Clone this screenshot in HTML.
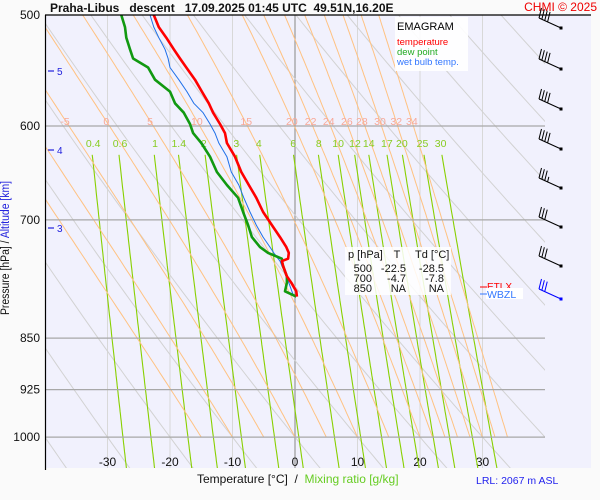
<!DOCTYPE html>
<html><head><meta charset="utf-8"><style>
html,body{margin:0;padding:0;background:#fafafa;}
svg{display:block;font-family:"Liberation Sans",sans-serif;}
</style></head><body>
<svg id="chart" width="600" height="500" viewBox="0 0 600 500">
<defs>
<clipPath id="clipAll"><rect x="46" y="15" width="499" height="453"/></clipPath>
<clipPath id="clipMoist"><rect x="46" y="15" width="499" height="423"/></clipPath>
</defs>
<rect x="0" y="0" width="600" height="500" fill="#fafafa"/>
<rect x="46" y="15" width="545" height="453" fill="#f1f1fd"/>
<g id="grid"></g>
<g id="bg" clip-path="url(#clipAll)"></g>
<g id="moist" clip-path="url(#clipMoist)"></g>
<g id="hgrid"></g>
<g id="labels"></g>
<g id="profiles" clip-path="url(#clipAll)"></g>
<line x1="45" y1="15" x2="591" y2="15" stroke="#000" stroke-width="1.2"/>
<line x1="45.5" y1="15" x2="45.5" y2="470" stroke="#000" stroke-width="1.2"/>
<text x="50" y="12" font-size="12" font-weight="bold" fill="#111" xml:space="preserve">Praha-Libus   descent   17.09.2025 01:45 UTC  49.51N,16.20E</text>
<text x="597" y="11" font-size="12" fill="#e00" text-anchor="end">CHMI © 2025</text>
<g>
<rect x="395" y="17" width="73" height="54" fill="#fff" opacity="0.9"/>
<text x="397" y="30" font-size="11" fill="#000">EMAGRAM</text>
<text x="397" y="45" font-size="9.5" fill="#f00">temperature</text>
<text x="397" y="55" font-size="9.5" fill="#2a2">dew point</text>
<text x="397" y="65" font-size="9.5" fill="#37f">wet bulb temp.</text>
</g>
<g font-size="11" fill="#111">
<rect x="345" y="247" width="106" height="48" fill="#fff" opacity="0.85"/>
<text x="348" y="258">p [hPa]</text><text x="397" y="258" text-anchor="middle">T</text><text x="415" y="258">Td [°C]</text>
<text x="372" y="272" text-anchor="end">500</text><text x="406" y="272" text-anchor="end">-22.5</text><text x="444" y="272" text-anchor="end">-28.5</text>
<text x="372" y="282" text-anchor="end">700</text><text x="406" y="282" text-anchor="end">-4.7</text><text x="444" y="282" text-anchor="end">-7.8</text>
<text x="372" y="292" text-anchor="end">850</text><text x="406" y="292" text-anchor="end">NA</text><text x="444" y="292" text-anchor="end">NA</text>
</g>
<g>
<line x1="480" y1="287" x2="487" y2="287" stroke="#f00"/>
<text x="487" y="290" font-size="10" fill="#f00">ETLX</text>
<rect x="486" y="288" width="37" height="11" fill="#fff"/>
<line x1="480" y1="294" x2="487" y2="294" stroke="#37f"/>
<text x="487" y="298" font-size="10.5" fill="#37f">WBZL</text>
</g>
<g id="barbs"></g>
<text x="9" y="248" font-size="11.5" fill="#111" text-anchor="middle" textLength="134" lengthAdjust="spacingAndGlyphs" transform="rotate(-90 9 248)">Pressure [hPa] / <tspan fill="#22d">Altitude [km]</tspan></text>
<text x="197" y="483" font-size="12" fill="#111" xml:space="preserve">Temperature [°C]  /  <tspan fill="#6c2">Mixing ratio [g/kg]</tspan></text>
<text x="476" y="484" font-size="10.5" fill="#22e">LRL: 2067 m ASL</text>
</svg>
<script>
const NS="http://www.w3.org/2000/svg";
const pressureTicks=[500,600,700,850,925,1000];
const tempTicks=[-30,-20,-10,0,10,20,30];
const altKm=[5,4,3];
const altY=[71,150,228];
const dryTheta=[-40,-30,-20,-10,0,10,20,30,40,50,60,70,80,90,100,110,120,130];
const moistThetaW=[-15,-10,-5,0,5,10,15,20,22,24,26,28,30,32,34];
const mixRatios=[0.4,0.6,1,1.4,2,3,4,6,8,10,12,14,17,20,25,30];
const moistLabels=["-5","0","5","10","15","20","22","24","26","28","30","32","34"];
const moistLabelT=[-36.8,-30.2,-23.2,-15.7,-7.8,-0.5,2.5,5.4,8.3,10.7,13.6,16.2,18.7];
const mixLabelT=[-32.3,-28.0,-22.4,-18.6,-14.6,-9.4,-5.8,-0.3,3.8,6.9,9.6,11.8,14.7,17.1,20.4,23.3];
const profP=[500,510,519,529,537,545,556,567,578,587,598,607,617,631,647,661,675,691,706,720,732,739,746,749,755,768,776,787,794];
const tempC=[-22.6,-21.8,-20.6,-19.4,-18.4,-17.4,-16.0,-14.9,-13.8,-13.1,-12.0,-11.2,-10.9,-9.6,-8.6,-7.4,-6.2,-5.1,-3.7,-2.4,-1.4,-1.0,-1.1,-2.1,-1.9,-1.3,-0.6,0.2,0.3];
const dewC=[-27.8,-27.2,-27.0,-26.4,-25.9,-23.5,-22.4,-20.0,-19.2,-17.8,-16.8,-16.3,-15.0,-13.6,-12.5,-10.9,-9.1,-8.3,-7.5,-6.9,-5.6,-4.3,-2.1,-2.1,-1.9,-1.3,-1.3,-1.6,0.2];
const wetC=[-23.2,-22.6,-21.8,-20.8,-20.3,-20.0,-18.6,-17.3,-16.2,-14.7,-13.6,-12.8,-12.2,-10.9,-10.2,-9.0,-8.2,-7.2,-6.2,-5.1,-4.0,-3.4,-2.7,-2.4,-2.1,-1.3,-1.0,-0.5,-0.2];
const barbY=[28,69,109,149,188,227,266,299];
const barbCount=[4,4,4,4,3.5,3,3,3];

function xT(t){return 295+6.25*t;}
function yP(p){return 15+609*Math.log(p/500);}
function mk(tag,attrs,parent){const e=document.createElementNS(NS,tag);for(const k in attrs)e.setAttribute(k,attrs[k]);parent.appendChild(e);return e;}
function pathOf(pts){return pts.map((q,i)=>(i?'L':'M')+q[0].toFixed(1)+' '+q[1].toFixed(1)).join(' ');}

const grid=document.getElementById('grid');
tempTicks.forEach(t=>{
  const l=mk('line',{x1:xT(t),x2:xT(t),y1:15,y2:468,stroke:t===0?'#999':'#d8d8d8','stroke-width':t===0?1.2:1},grid);
  
  
  const tx=mk('text',{x:xT(t),y:466,'font-size':12,'text-anchor':'middle',fill:'#111'},grid);
  tx.textContent=t;
  
  
});
const hg=document.getElementById('hgrid');
pressureTicks.forEach(p=>{
  if(p>500){
    const l=mk('line',{x1:46,x2:545,y1:yP(p),y2:yP(p),stroke:'#a8a8a8','stroke-width':1.2},hg);
    
    
  }
  const tx=mk('text',{x:40,y:yP(p)+4,'font-size':12,'text-anchor':'end',fill:'#111'},hg);
  tx.textContent=p;
  
  
});
altKm.forEach((a,i)=>{
  const l=mk('line',{x1:48,x2:54,y1:altY[i],y2:altY[i],stroke:'#22d','stroke-width':1.2},hg);
  
  
  const tx=mk('text',{x:57,y:altY[i]+4,'font-size':10,fill:'#22d'},hg);
  tx.textContent=a;
  
  
});

const bg=document.getElementById('bg');
dryTheta.forEach(th=>{
  const pts=[];
  for(let p=440;p<=1060;p+=10){pts.push([xT((th+273.15)*Math.pow(p/1000,0.2857)-273.15),yP(p)]);}
  const pa=mk('path',{d:pathOf(pts),fill:'none',stroke:'#d2d2d2','stroke-width':1},bg);
  
  
});
function tFromW(w,p){const e=w*p/(622+w);const l=Math.log(e/6.112);return 243.5*l/(17.67-l);}
mixRatios.forEach(w=>{
  const pts=[];
  for(let p=629;p<=1060;p+=5){pts.push([xT(tFromW(w,p)),yP(p)]);}
  const pa=mk('path',{d:pathOf(pts),fill:'none',stroke:'#88d000','stroke-width':1.1},bg);
  
  
});
const moist=document.getElementById('moist');
function rs(T,p){const tc=T-273.15;const e=6.112*Math.exp(17.67*tc/(tc+243.5));return 0.622*e/(p-e);}
moistThetaW.forEach(tw=>{
  let T=tw+273.15;const pts=[[xT(tw),yP(1000)]];
  let lp=Math.log(1000);const dl=-0.005;
  while(Math.exp(lp)>440){
    const p=Math.exp(lp);const r=rs(T,p);
    const g=(287*T+2.5e6*r)/(1005+2.5e6*2.5e6*r*0.622/(287*T*T));
    T+=g*dl;lp+=dl;pts.push([xT(T-273.15),yP(Math.exp(lp))]);
  }
  const pa=mk('path',{d:pathOf(pts),fill:'none',stroke:'#ffc282','stroke-width':1},moist);
  
  
});
const lab=document.getElementById('labels');
moistLabels.forEach((s,i)=>{
  const tx=mk('text',{x:xT(moistLabelT[i]),y:125,'font-size':10.5,'text-anchor':'middle',fill:'#f8a898'},lab);
  tx.textContent=s;
  
  
});
mixRatios.forEach((w,i)=>{
  const x=xT(mixLabelT[i]);
  const tx=mk('text',{x:x,y:147,'font-size':10.5,'text-anchor':'middle',fill:'#88cc22'},lab);
  tx.textContent=w;
  
  
});
const prof=document.getElementById('profiles');
function series(vals,color,width,name){
  const pts=profP.map((p,i)=>[xT(vals[i]),yP(p)]);
  const pa=mk('path',{d:pathOf(pts),fill:'none',stroke:color,'stroke-width':width,'stroke-linejoin':'round'},prof);
  
  
}
series(wetC,'#1e6fe8',1,'wet-bulb-line');
series(dewC,'#119911',2.6,'dew-point-line');
series(tempC,'#ff0000',2.6,'temperature-line');
const barbs=document.getElementById('barbs');
barbY.forEach((y,i)=>{
  const col=i===barbY.length-1?'#00f':'#000';
  const g=mk('g',{stroke:col,'stroke-width':1,fill:col},barbs);
  
  
  const x0=561,x1=539,y1=y-10;
  mk('line',{x1:x0,y1:y,x2:x1,y2:y1},g);
  mk('rect',{x:x0-1.5,y:y-1.5,width:3,height:3,stroke:'none'},g);
  const n=barbCount[i];
  for(let k=0;k<Math.ceil(n);k++){
    const f=k*0.13;
    const bx=x1+(x0-x1)*f,by=y1+(y-y1)*f;
    const len=(k<Math.floor(n))?10:5;
    mk('line',{x1:bx,y1:by,x2:bx+len*0.25,y2:by-len},g);
  }
});
</script>
</body></html>
